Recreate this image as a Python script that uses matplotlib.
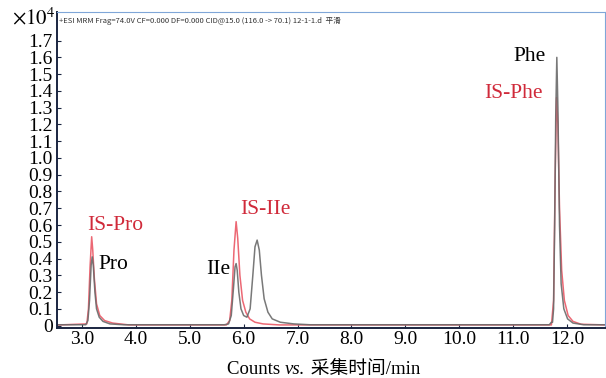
import matplotlib.pyplot as plt

plt.rcParams['font.family'] = ['Liberation Serif', 'Noto Sans CJK SC', 'DejaVu Sans']
plt.rcParams['mathtext.fontset'] = 'stix'

# analyte trace (grey): retention time (min), counts (x10^4)
t_analyte = [2.50, 3.07, 3.11, 3.14, 3.17, 3.19, 3.21, 3.24, 3.27, 3.32, 3.39, 3.52, 3.77,
             5.64, 5.72, 5.77, 5.81, 5.84, 5.86, 5.88, 5.91, 5.95, 6.00, 6.06, 6.12, 6.17,
             6.21, 6.25, 6.29, 6.33, 6.38, 6.45, 6.53, 6.68, 6.93, 7.23,
             11.67, 11.71, 11.73, 11.75, 11.77, 11.79, 11.81, 11.83, 11.86, 11.89, 11.94,
             12.01, 12.11, 12.31, 12.70]
c_analyte = [0.005, 0.005, 0.03, 0.15, 0.36, 0.41, 0.36, 0.20, 0.10, 0.05, 0.025, 0.01, 0.005,
             0.005, 0.01, 0.06, 0.22, 0.35, 0.37, 0.33, 0.20, 0.10, 0.06, 0.05, 0.10, 0.30,
             0.47, 0.51, 0.45, 0.30, 0.16, 0.08, 0.04, 0.02, 0.01, 0.005,
             0.005, 0.02, 0.02, 0.10, 0.60, 1.25, 1.60, 1.30, 0.60, 0.25, 0.10,
             0.04, 0.015, 0.005, 0.005]

# internal standard trace (red)
t_is = [2.50, 3.09, 3.12, 3.15, 3.18, 3.20, 3.23, 3.27, 3.33, 3.42, 3.57, 3.87,
        5.68, 5.74, 5.78, 5.82, 5.86, 5.89, 5.93, 5.98, 6.04, 6.11, 6.21, 6.36, 6.66,
        11.71, 11.75, 11.78, 11.805, 11.83, 11.86, 11.90, 11.95, 12.02, 12.11, 12.26, 12.70]
c_is = [0.003, 0.01, 0.10, 0.35, 0.53, 0.45, 0.28, 0.13, 0.06, 0.03, 0.015, 0.004,
        0.004, 0.03, 0.15, 0.45, 0.62, 0.52, 0.30, 0.15, 0.08, 0.04, 0.02, 0.01, 0.004,
        0.004, 0.15, 0.90, 1.36, 1.20, 0.70, 0.33, 0.15, 0.06, 0.025, 0.008, 0.004]

peak_names = ['IS-Pro', 'Pro', 'IIe', 'IS-IIe', 'Phe', 'IS-Phe']
peak_label_x = [3.61, 3.575, 5.52, 6.40, 11.31, 11.00]
peak_label_y = [0.60, 0.363, 0.333, 0.69, 1.607, 1.387]
peak_is_std = [True, False, False, True, False, True]

x_ticks = [3, 4, 5, 6, 7, 8, 9, 10, 11, 12]
y_ticks = [i / 10 for i in range(18)]

fig = plt.figure(figsize=(6.06, 3.78), dpi=100)
ax = fig.add_axes([0.094, 0.132, 0.904, 0.836])

ax.plot(t_is, c_is, color='#ec6874', lw=1.1)
ax.plot(t_analyte, c_analyte, color='#6a6a6a', lw=1.1, alpha=0.9)

red = '#d02a3a'
for name, x, y, is_std in zip(peak_names, peak_label_x, peak_label_y, peak_is_std):
    ax.text(x, y, name, color=red if is_std else 'black', fontsize=15.5,
            ha='center', va='center')

ax.set_xlim(2.536, 12.70)
ax.set_ylim(-0.015, 1.87)
ax.set_xticks(x_ticks)
ax.set_xticklabels([f'{v:.1f}' for v in x_ticks], fontsize=14)
ax.set_yticks(y_ticks)
ax.set_yticklabels(['0'] + [f'{v:.1f}' for v in y_ticks[1:]], fontsize=14)
ax.tick_params(direction='in', length=3, width=0.8, color='#1a2540', pad=2)
ax.tick_params(axis='y', pad=3)

for side in ['left', 'bottom']:
    ax.spines[side].set_color('#1a2540')
    ax.spines[side].set_linewidth(1.4)
for side in ['top', 'right']:
    ax.spines[side].set_color('#7fa6d8')
    ax.spines[side].set_linewidth(0.8)

ax.text(0.004, 0.985, '+ESI MRM Frag=74.0V CF=0.000 DF=0.000 CID@15.0 (116.0 -> 70.1) 12-1-1.d  平滑',
        transform=ax.transAxes, fontsize=5.5, va='top', ha='left',
        family=['Noto Sans CJK SC', 'DejaVu Sans'], color='#333333')

fig.text(0.02, 0.934, r'$\times10^4$', fontsize=15, va='baseline')

# x label: "Counts vs. 采集时间/min" with italic "vs."
t1 = fig.text(0.375, 0.011, 'Counts ', fontsize=13.5, va='baseline')
t2 = fig.text(0, 0, 'vs.', fontsize=13.5, style='italic', va='baseline',
              transform=t1.get_transform())
fig.canvas.draw()
r = fig.canvas.get_renderer()
bb1 = t1.get_window_extent(r)
t2.set_position((bb1.x1 / fig.bbox.width, 0.011))
bb2 = t2.get_window_extent(r)
fig.text(bb2.x1 / fig.bbox.width, 0.011, ' 采集时间/min', fontsize=13.5, va='baseline')

fig.savefig('out.png', dpi=100)
